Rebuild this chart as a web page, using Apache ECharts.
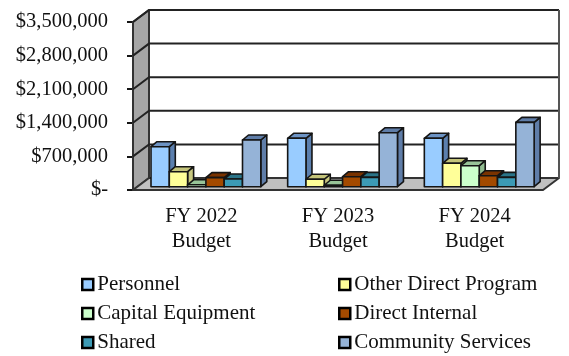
<!DOCTYPE html>
<html>
<head>
<meta charset="utf-8">
<style>html,body{margin:0;padding:0;background:#fff}#chart{width:569px;height:356px}</style>
<script src="https://cdn.jsdelivr.net/npm/echarts@6/dist/echarts.min.js"></script>
</head>
<body>
<div id="chart"></div>
<script>
// Budget by fiscal year, in dollars
const categories = ['FY 2022\nBudget', 'FY 2023\nBudget', 'FY 2024\nBudget'];
const yTicks = [0, 700000, 1400000, 2100000, 2800000, 3500000];
const personnel = [833000, 1008000, 1008000];
const otherDirect = [312000, 155000, 487000];
const capital = [40000, 30000, 437000];
const directInternal = [190000, 208000, 229000];
const shared = [160000, 195000, 195000];
const community = [973000, 1125000, 1341000];

const INK = '#151515';
const SERIF = '"Liberation Serif", serif';
const WALL_DX = 16, WALL_DY = -12;     // depth of the chart box
const BAR_DX = 6, BAR_DY = -5;         // depth of a bar
const BAR_W = 18.3, BAR_LEAD = 18;     // bar width and gap before a group
const BAR_LIFT = -3.3;                 // bars stand partway back on the floor

const bars = [
  { name: 'Personnel', values: personnel, front: '#99CCFF', top: '#6C93C4', side: '#5B7FAE' },
  { name: 'Other Direct Program', values: otherDirect, front: '#FFFF99', top: '#C4C47A', side: '#C8C880' },
  { name: 'Capital Equipment', values: capital, front: '#CCFFCC', top: '#98C498', side: '#90BC90' },
  { name: 'Direct Internal', values: directInternal, front: '#A34A00', top: '#7A3300', side: '#7A3300' },
  { name: 'Shared', values: shared, front: '#3C9AB5', top: '#2A7488', side: '#2A7488' },
  { name: 'Community Services', values: community, front: '#95B3D7', top: '#5F7DA8', side: '#5F7DA8' }
];

function poly(points, fill) {
  return {
    type: 'polygon',
    shape: { points },
    style: { fill, stroke: INK, lineWidth: 1.6, lineJoin: 'round' }
  };
}

function barRenderer(order, colors) {
  return function (params, api) {
    const band = api.size([1, 0])[0];
    const base = api.coord([api.value(0), 0]);
    const head = api.coord([api.value(0), api.value(1)]);
    const x0 = base[0] - band / 2 + BAR_LEAD + order * BAR_W;
    const x1 = x0 + BAR_W;
    const y0 = base[1] + BAR_LIFT;
    const y1 = head[1] + BAR_LIFT;
    return {
      type: 'group',
      children: [
        poly([[x1, y0], [x1 + BAR_DX, y0 + BAR_DY], [x1 + BAR_DX, y1 + BAR_DY], [x1, y1]], colors.side),
        poly([[x0, y1], [x0 + BAR_DX, y1 + BAR_DY], [x1 + BAR_DX, y1 + BAR_DY], [x1, y1]], colors.top),
        poly([[x0, y0], [x1, y0], [x1, y1], [x0, y1]], colors.front)
      ]
    };
  };
}

// Side wall and floor of the box
function renderShell(params) {
  const r = params.coordSys;
  const left = r.x, right = r.x + r.width, top = r.y, bottom = r.y + r.height;
  const bx = WALL_DX, by = WALL_DY;
  const wall = poly([[left, bottom], [left + bx, bottom + by], [left + bx, top + by], [left, top]], '#A6A6A6');
  const floor = poly([[left, bottom], [left + bx, bottom + by], [right + bx, bottom + by], [right, bottom]], '#C0C0C0');
  wall.style.lineWidth = floor.style.lineWidth = 2;
  wall.style.stroke = floor.style.stroke = '#333';
  return { type: 'group', children: [wall, floor] };
}

// One gridline per tick, running up the side wall and across the back, plus the right edge
function renderGridline(params, api) {
  const r = params.coordSys;
  const y = api.coord([0, api.value(1)])[1];
  const right = r.x + r.width + WALL_DX;
  return {
    type: 'polyline',
    shape: { points: [[r.x, y], [r.x + WALL_DX, y + WALL_DY], [right, y + WALL_DY]] },
    style: { fill: 'none', stroke: '#222', lineWidth: 2 }
  };
}

function renderRightEdge(params) {
  const r = params.coordSys;
  const x = r.x + r.width + WALL_DX;
  return {
    type: 'line',
    shape: { x1: x, y1: r.y + WALL_DY, x2: x, y2: r.y + r.height + WALL_DY },
    style: { stroke: '#555', lineWidth: 2 }
  };
}

const legendBase = {
  orient: 'vertical',
  icon: 'rect',
  itemWidth: 11,
  itemHeight: 11,
  itemGap: 8,
  textStyle: { fontFamily: SERIF, fontSize: 21, color: '#111', padding: [0, 0, 0, -1] },
  itemStyle: { borderColor: '#000', borderWidth: 2.5 },
  selectedMode: false,
  padding: 0
};

const chart = echarts.init(document.getElementById('chart'), null, { renderer: 'canvas' });
chart.setOption({
  animation: false,
  backgroundColor: '#fff',
  grid: { left: 133, top: 22, width: 410, height: 168 },
  legend: [
    Object.assign({}, legendBase, { left: 81, top: 274, data: [bars[0].name, bars[2].name, bars[4].name] }),
    Object.assign({}, legendBase, { left: 338, top: 274, data: [bars[1].name, bars[3].name, bars[5].name] })
  ],
  xAxis: {
    type: 'category',
    data: categories,
    axisLine: { show: false },
    axisTick: { show: false },
    axisLabel: { fontFamily: SERIF, fontSize: 20.5, color: '#111', lineHeight: 25, margin: 14 }
  },
  yAxis: {
    type: 'value',
    min: yTicks[0],
    max: yTicks[yTicks.length - 1],
    interval: yTicks[1],
    splitLine: { show: false },
    axisLine: { show: false },
    axisTick: { show: true, length: 6, lineStyle: { color: INK, width: 2 } },
    axisLabel: {
      fontFamily: SERIF, fontSize: 20.5, color: '#111', margin: 25,
      formatter: v => v === 0 ? '$-' : '$' + v.toLocaleString('en-US')
    }
  },
  series: [
    { type: 'custom', silent: true, clip: false, z: 1, renderItem: renderShell, data: [[0, 0]] },
    { type: 'custom', silent: true, clip: false, z: 2, renderItem: renderGridline, data: yTicks.slice(1).map(v => [0, v]) },
    { type: 'custom', silent: true, clip: false, z: 2, renderItem: renderRightEdge, data: [[0, 0]] }
  ].concat(bars.map((b, i) => ({
    type: 'custom',
    name: b.name,
    silent: true,
    clip: false,
    z: 3 + i,
    itemStyle: { color: b.front },
    renderItem: barRenderer(i, b),
    encode: { x: 0, y: 1 },
    data: b.values.map((v, c) => [c, v])
  })))
});
</script>
</body>
</html>
